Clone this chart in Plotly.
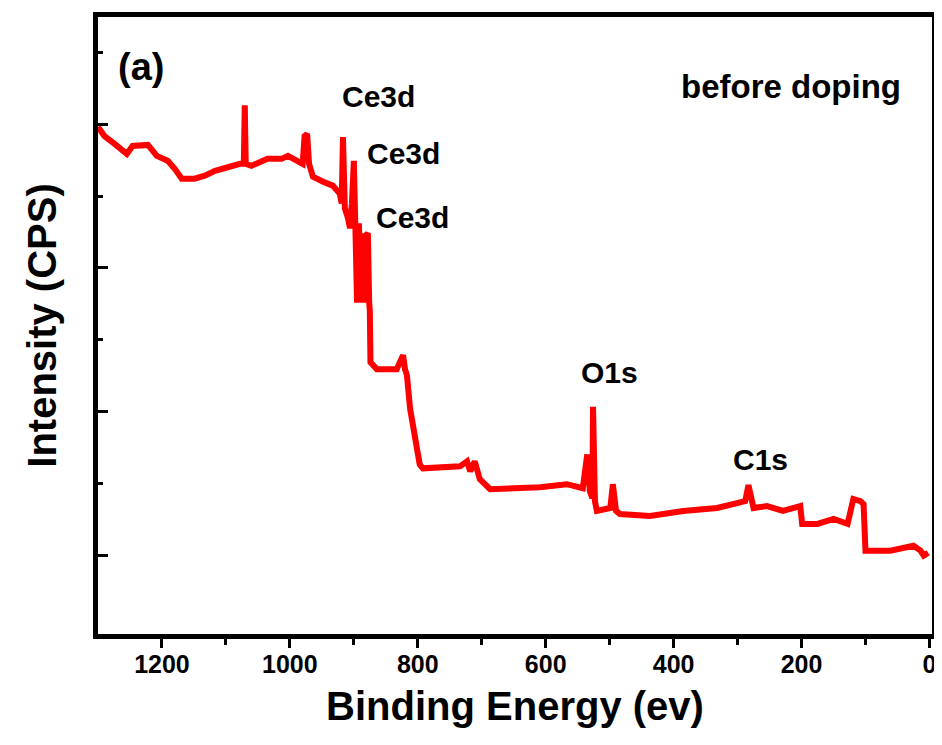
import plotly.graph_objects as go

# Binding energy (eV) and intensity (CPS)
energy = [1300, 1290, 1274, 1255, 1246, 1222, 1208, 1191, 1180, 1169, 1149, 1133, 1117, 1097,
          1078, 1072, 1070.5, 1069, 1060, 1035, 1013, 1003, 988, 980, 977, 973, 970, 964, 948,
          933, 922, 919, 917, 914, 909, 906, 903, 900, 897, 895, 892, 889, 886, 883, 881, 878,
          876, 875, 874, 864, 833, 828, 823, 820, 817, 812, 804, 797, 792, 765, 734, 723, 718,
          711, 703, 687, 645, 609, 567, 542, 535, 531, 527, 526, 523, 520, 499, 495, 490, 484,
          437, 385, 332, 307, 288, 283, 279, 275, 254, 229, 202, 199, 175, 150, 128, 124, 119,
          108, 103, 100, 61, 25, 14, 9, 2]
intensity = [39795, 39174, 38623, 37933, 38485, 38554, 37795, 37450, 36898, 36209, 36209, 36416,
             36760, 37036, 37243, 37243, 41312, 37243, 37105, 37588, 37588, 37795, 37381, 37243,
             39174, 39312, 37243, 36347, 36002, 35726, 35174, 34484, 39105, 34140, 33450, 32760,
             34484, 37450, 31726, 27587, 33105, 27587, 32415, 27587, 32277, 32415, 27587, 27036,
             23449, 22966, 22966, 23449, 23932, 22966, 22553, 20208, 18414, 16345, 16069, 16138,
             16207, 16552, 15862, 16552, 15311, 14621, 14690, 14759, 14966, 14690, 17035, 14483,
             14000, 20346, 13793, 13104, 13311, 14966, 13104, 12897, 12759, 13104, 13311, 13586,
             13793, 14897, 13793, 13311, 13449, 13104, 13449, 12207, 12207, 12552, 12207, 13104,
             13931, 13793, 13586, 10345, 10345, 10690, 10345, 10000, 10207]

# Peak labels
label_text = ["Ce3d", "Ce3d", "Ce3d", "O1s", "C1s"]
label_x = [862, 822, 808, 501, 264]
label_y = [41933, 37933, 33519, 22759, 16690]

x_tick_vals = [1200, 1000, 800, 600, 400, 200, 0]
x_minor_vals = [1100, 900, 700, 500, 300, 100]
y_major_vals = [10000, 20000, 30000, 40000]
y_minor_vals = [15000, 25000, 35000, 45000]

FONT = "Liberation Sans, Arial, sans-serif"

fig = go.Figure()
fig.add_trace(go.Scatter(x=energy, y=intensity, mode="lines",
                         line=dict(color="#ff0000", width=6), showlegend=False))

annotations = []
for t, xx, yy in zip(label_text, label_x, label_y):
    annotations.append(dict(x=xx, y=yy, xref="x", yref="y", text=t, showarrow=False,
                            font=dict(family=FONT, size=30, color="black", weight="bold")))
annotations.append(dict(x=1233, y=44002, xref="x", yref="y", text="(a)", showarrow=False,
                        font=dict(family=FONT, size=38, color="black", weight="bold")))
annotations.append(dict(x=216, y=42623, xref="x", yref="y", text="before doping", showarrow=False,
                        font=dict(family=FONT, size=33, color="black", weight="bold")))

fig.update_layout(
    width=934, height=737,
    margin=dict(l=90, r=10, t=4, b=111),
    paper_bgcolor="white", plot_bgcolor="white",
    annotations=annotations,
)
fig.update_xaxes(
    range=[1300, -4], showgrid=False, zeroline=False,
    showline=True, linecolor="black", linewidth=5, mirror=True,
    ticks="outside", ticklen=9, tickwidth=3, tickcolor="black",
    tickvals=x_tick_vals, ticktext=[str(v) for v in x_tick_vals],
    ticklabelstandoff=-5,
    tickfont=dict(family=FONT, size=25, color="black", weight="bold"),
    minor=dict(ticks="outside", ticklen=6, tickwidth=3, tickcolor="black", tickvals=x_minor_vals),
    title=dict(text="Binding Energy (ev)", standoff=16,
               font=dict(family=FONT, size=40, color="black", weight="bold")),
)
fig.update_yaxes(
    range=[4551, 47451], showgrid=False, zeroline=False,
    showline=True, linecolor="black", linewidth=5, mirror=True,
    ticks="inside", ticklen=10, tickwidth=3, tickcolor="black",
    tickvals=y_major_vals, showticklabels=False,
    minor=dict(ticks="inside", ticklen=5, tickwidth=3, tickcolor="black", tickvals=y_minor_vals),
    title=dict(text="Intensity (CPS)", standoff=26,
               font=dict(family=FONT, size=40, color="black", weight="bold")),
)

fig.write_html("out.html")
